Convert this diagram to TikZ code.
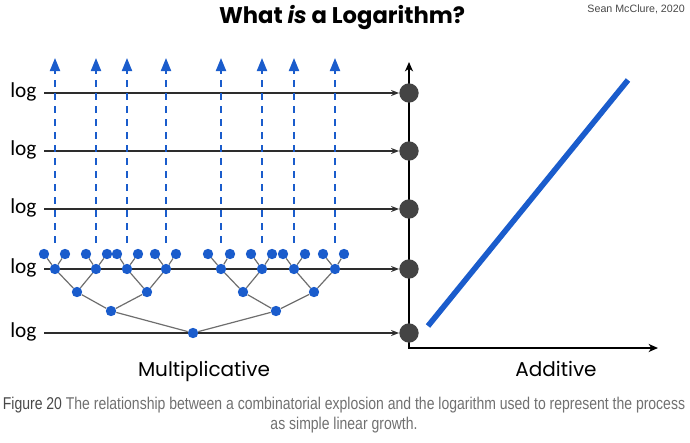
\documentclass[tikz,border=0pt]{standalone}
\usepackage{fontspec}
\usepackage{graphicx}
\usetikzlibrary{arrows.meta}
\newfontfamily\comicf{Poppins}
\newfontfamily\logf{Carlito}
\newfontfamily\capf{Liberation Sans}
\definecolor{dotblue}{RGB}{26,92,204}
\definecolor{darkdot}{RGB}{68,68,68}
\definecolor{linegray}{RGB}{45,45,45}
\definecolor{edgegray}{RGB}{110,110,110}
\definecolor{capgray}{RGB}{112,112,112}
\definecolor{capdark}{RGB}{72,72,72}
\begin{document}
\begin{tikzpicture}[x=0.75pt,y=-0.75pt,
 bdot/.style={circle,fill=dotblue,inner sep=0pt,minimum size=7.8pt},
 kdot/.style={circle,fill=darkdot,inner sep=0pt,minimum size=14.5pt},
 loglab/.style={font=\logf\fontsize{16pt}{18pt}\selectfont,anchor=base west,inner sep=0pt},
 logline/.style={linegray,line width=1.1pt,-{Stealth[length=6pt,width=4.5pt]}},
 treeedge/.style={edgegray,line width=0.9pt},
 darr/.style={dotblue,line width=1.5pt,dash pattern=on 5.25pt off 4.5pt,-{Triangle[length=9.75pt,width=7.5pt]}},
 axisline/.style={black,line width=1.5pt},
 comictext/.style={font=\comicf\fontsize{15pt}{18pt}\selectfont,anchor=base,inner sep=0pt},
 captext/.style={anchor=base,inner sep=0pt,font=\capf\fontsize{12.8pt}{14pt}\selectfont,text=capgray}
]
\useasboundingbox (0,0) rectangle (690,443);

% axes
\coordinate (O) at (409,348);
\coordinate (Ytop) at (409,62);
\coordinate (Xend) at (658,348);
\draw[axisline,{Stealth[length=7pt,width=6pt,inset=2pt]}-{Stealth[length=7pt,width=6pt,inset=2pt]}] (Ytop) -- (O) -- (Xend);

% dark dots on the axis
\node[kdot] (K1) at (409,93) {};
\node[kdot] (K2) at (409,151) {};
\node[kdot] (K3) at (409,209) {};
\node[kdot] (K4) at (409,269) {};
\node[kdot] (K5) at (409,333) {};

% log labels and arrows
\foreach \i/\yy in {1/93,2/151,3/209,4/269,5/333}{
  \node[loglab] (lab\i) at (10,\yy+4) {log};
  \coordinate (s\i) at (44,\yy);
  \draw[logline] (s\i) -- (K\i);
}

% tree nodes
\node[bdot] (R) at (193,333) {};
\node[bdot] (A) at (111,311) {};
\node[bdot] (B) at (276,311) {};
\node[bdot] (A1) at (77,292) {};
\node[bdot] (A2) at (147,292) {};
\node[bdot] (B1) at (243,292) {};
\node[bdot] (B2) at (314,292) {};
\node[bdot] (C1) at (55,269) {};
\node[bdot] (C2) at (96,269) {};
\node[bdot] (C3) at (127,269) {};
\node[bdot] (C4) at (166,269) {};
\node[bdot] (C5) at (221,269) {};
\node[bdot] (C6) at (262,269) {};
\node[bdot] (C7) at (294,269) {};
\node[bdot] (C8) at (335,269) {};
\foreach \c/\l/\r in {1/44/65,2/86/107,3/117/138,4/155/176,5/208/230,6/251/272,7/283/305,8/323/344}{
  \node[bdot] (T\c a) at (\l,254) {};
  \node[bdot] (T\c b) at (\r,254) {};
  \draw[treeedge] (C\c) -- (T\c a);
  \draw[treeedge] (C\c) -- (T\c b);
}
\draw[treeedge] (R) -- (A);
\draw[treeedge] (R) -- (B);
\draw[treeedge] (A) -- (A1);
\draw[treeedge] (A) -- (A2);
\draw[treeedge] (B) -- (B1);
\draw[treeedge] (B) -- (B2);
\draw[treeedge] (A1) -- (C1);
\draw[treeedge] (A1) -- (C2);
\draw[treeedge] (A2) -- (C3);
\draw[treeedge] (A2) -- (C4);
\draw[treeedge] (B1) -- (C5);
\draw[treeedge] (B1) -- (C6);
\draw[treeedge] (B2) -- (C7);
\draw[treeedge] (B2) -- (C8);

% dashed arrows
\foreach \c/\xx in {1/55,2/96,3/127,4/166,5/221,6/262,7/294,8/335}{
  \coordinate (U\c) at (\xx,58);
  \draw[darr,shorten <=15.5pt] (C\c) -- (U\c);
}

% linear growth line
\coordinate (g0) at (428,326);
\coordinate (g1) at (628,80);
\draw[dotblue,line width=4.2pt] (g0) -- (g1);

% texts
\node[comictext,font=\comicf\bfseries\fontsize{17pt}{20pt}\selectfont] (title) at (342,23) {What {\itshape is} a Logarithm?};
\node[anchor=base east,inner sep=0pt,font=\capf\fontsize{8pt}{9pt}\selectfont,text=capdark] (author) at (685,12) {Sean McClure, 2020};
\node[comictext] (mult) at (204,376) {Multiplicative};
\node[comictext] (add) at (556,376) {Additive};
\node[captext] (cap1) at (344,409) {\scalebox{0.82}[1]{\textcolor{capdark}{Figure 20} The relationship between a combinatorial explosion and the logarithm used to represent the process}};
\node[captext] (cap2) at (344,429) {\scalebox{0.82}[1]{as simple linear growth.}};
\end{tikzpicture}
\end{document}
